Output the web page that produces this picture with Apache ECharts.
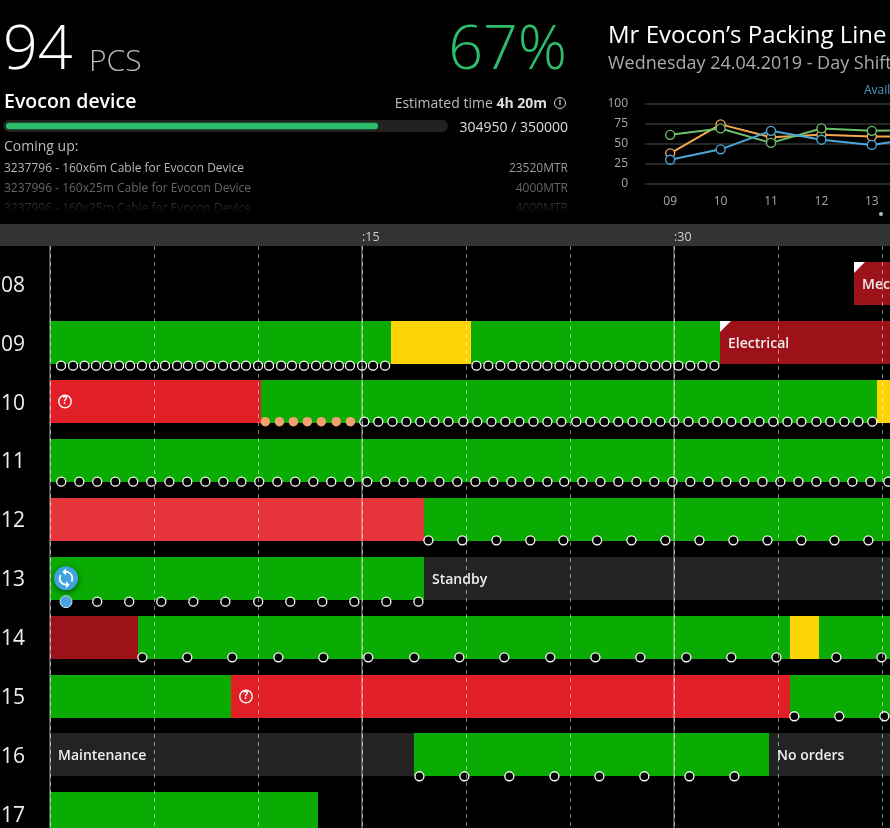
<!DOCTYPE html>
<html>
<head>
<meta charset="utf-8">
<title>Mr Evocon's Packing Line</title>
<style>
  html, body { margin: 0; padding: 0; background: #000; overflow: hidden; }
  #main { width: 890px; height: 828px; }
</style>
</head>
<body>
<div id="main"></div>
<script src="https://cdn.jsdelivr.net/npm/echarts@6/dist/echarts.min.js"></script>
<script>
//小时行
const hours = [8, 9, 10, 11, 12, 13, 14, 15, 16, 17];

//每行的状态段 [开始分钟, 结束分钟, 状态, 文字]
const row08 = [[38.65, 42, 'breakdown', 'Mechanical']];
const row09 = [[0, 16.38, 'run'], [16.38, 20.24, 'slow'], [20.24, 32.2, 'run'], [32.2, 42, 'breakdown', 'Electrical']];
const row10 = [[0, 10.13, 'unknown'], [10.13, 39.74, 'run'], [39.74, 42, 'slow']];
const row11 = [[0, 42, 'run']];
const row12 = [[0, 17.98, 'fault'], [17.98, 42, 'run']];
const row13 = [[0, 17.98, 'run'], [17.98, 42, 'idle', 'Standby']];
const row14 = [[0, 4.23, 'breakdown'], [4.23, 35.58, 'run'], [35.58, 36.97, 'slow'], [36.97, 42, 'run']];
const row15 = [[0, 8.7, 'run'], [8.7, 35.58, 'unknown'], [35.58, 42, 'run']];
const row16 = [[0, 17.5, 'idle', 'Maintenance'], [17.5, 34.57, 'run'], [34.57, 42, 'idle', 'No orders']];
const row17 = [[0, 12.88, 'run']];
const rows = [row08, row09, row10, row11, row12, row13, row14, row15, row16, row17];

//每行的产出点（分钟）
const dots09 = [0.53, 1.11, 1.66, 2.21, 2.74, 3.32, 3.85, 4.42, 5, 5.53, 6.11, 6.63, 7.21, 7.74, 8.32, 8.89, 9.42, 10, 10.53, 11.11, 11.63, 12.21, 12.79, 13.32, 13.89, 14.42, 15, 15.53, 16.11, 20.5, 21.07, 21.65, 22.23, 22.8, 23.38, 23.91, 24.49, 25.06, 25.64, 26.22, 26.79, 27.37, 27.95, 28.52, 29.1, 29.63, 30.21, 30.78, 31.36, 31.94];
const dots10 = [15.11, 15.78, 16.46, 17.13, 17.8, 18.48, 19.15, 19.87, 20.54, 21.22, 21.89, 22.56, 23.24, 23.91, 24.58, 25.3, 25.98, 26.65, 27.32, 28, 28.67, 29.34, 30.01, 30.69, 31.41, 32.08, 32.75, 33.43, 34.1, 34.77, 35.45, 36.12, 36.84, 37.51, 38.19, 38.86, 39.53];
const dots11 = [0.54, 1.41, 2.27, 3.14, 4, 4.87, 5.74, 6.6, 7.47, 8.33, 9.2, 10.06, 10.93, 11.79, 12.66, 13.52, 14.39, 15.25, 16.12, 16.99, 17.85, 18.72, 19.58, 20.45, 21.31, 22.18, 23.04, 23.91, 24.72, 25.59, 26.46, 27.32, 28.19, 29.05, 29.92, 30.78, 31.65, 32.51, 33.38, 34.25, 35.11, 35.98, 36.84, 37.71, 38.57, 39.44, 40.3];
const dots12 = [18.19, 19.82, 21.46, 23.09, 24.68, 26.3, 27.95, 29.58, 31.22, 32.85, 34.49, 36.12, 37.71, 39.34];
const dots13 = [2.27, 3.81, 5.35, 6.89, 8.43, 10.01, 11.55, 13.09, 14.63, 16.17, 17.71];
const dots14 = [4.44, 6.6, 8.76, 10.98, 13.14, 15.3, 17.51, 19.68, 21.84, 24.05, 26.22, 28.38, 30.59, 32.75, 34.92, 37.8, 39.97];
const dots15 = [35.78, 37.94, 40.11];
const dots16 = [17.76, 19.92, 22.08, 24.25, 26.41, 28.57, 30.74, 32.9];
const dotRows = [[9, dots09], [10, dots10], [11, dots11], [12, dots12], [13, dots13], [14, dots14], [15, dots15], [16, dots16]];

//慢速点和换型点
const slowDots10 = [10.35, 11.03, 11.7, 12.37, 13.04, 13.76, 14.44];
const changeoverDots13 = [0.77];

//小折线图
const trendHours = ['09', '10', '11', '12', '13', '14'];
const availability = [30, 43, 66, 55, 48.5, 58];
const performance = [38, 74, 58, 61, 59, 59];
const quality = [61, 69, 51, 69, 66, 67];

//工单进度
const producedAmount = 304950;
const targetAmount = 350000;

//颜色
const stateColors = {
  run: '#0aab02',
  slow: '#fcd406',
  unknown: '#e01f26',
  fault: '#e5353b',
  breakdown: '#9c1218',
  idle: '#232323'
};
const GREEN = '#2dbe6c';
const FONT = '"Open Sans", "Noto Sans", sans-serif';

//时间轴比例
const ROW_SPAN = 0.73;
const PX_PER_HOUR = 58.9;
const dotDropPx = { 9: 1.5, 10: -1.4, 11: -0.3, 12: -0.6, 13: 1.9, 14: -1.4, 15: -1.3, 16: -0.2 };
const rowBottomDot = (h) => h + ROW_SPAN / 2 + dotDropPx[h] / PX_PER_HOUR;

//摊平状态段
const segments = [];
rows.forEach((row, i) => {
  row.forEach((s) => segments.push({ start: s[0], end: s[1], state: s[2], label: s[3], hour: hours[i] }));
});

//状态段
function renderSegment(params, api) {
  const seg = segments[params.dataIndex];
  const p0 = api.coord([seg.start, seg.hour]);
  const p1 = api.coord([seg.end, seg.hour]);
  const h = api.size([0, ROW_SPAN])[1];
  const x = Math.round(p0[0]);
  const y = Math.round(p0[1] - h / 2);
  const w = Math.round(p1[0]) - x;
  const children = [{
    type: 'rect',
    shape: { x, y, width: w, height: Math.round(h) },
    style: { fill: stateColors[seg.state] }
  }];
  if (seg.state === 'breakdown' && seg.label) {
    children.push({
      type: 'polygon',
      shape: { points: [[x, y], [x + 11, y], [x, y + 11]] },
      style: { fill: '#fff' }
    });
  }
  if (seg.label) {
    children.push({
      type: 'text',
      style: {
        text: seg.label, x: x + 8, y: y + h / 2 + 2,
        fill: '#eee', font: '600 14px ' + FONT,
        textAlign: 'left', textVerticalAlign: 'middle'
      }
    });
  }
  if (seg.state === 'unknown') {
    const cx = x + 15;
    const cy = y + h / 2;
    children.push({
      type: 'circle',
      shape: { cx, cy, r: 6.2 },
      style: { fill: 'none', stroke: '#fff', lineWidth: 1.4 }
    }, {
      type: 'text',
      style: {
        text: '?', x: cx, y: cy, fill: '#fff', font: '700 10px ' + FONT,
        textAlign: 'center', textVerticalAlign: 'middle'
      }
    });
  }
  return { type: 'group', children };
}

//换型图标
function renderChangeover(params, api) {
  const p = api.coord([api.value(0), api.value(1)]);
  return {
    type: 'group',
    children: [{
      type: 'circle',
      shape: { cx: p[0], cy: p[1], r: 12 },
      style: { fill: '#3fa4e0', shadowBlur: 6, shadowColor: 'rgba(0,0,0,0.5)', shadowOffsetY: 2 }
    }, {
      type: 'path',
      shape: {
        pathData: 'M12 4V1L8 5l4 4V6c3.31 0 6 2.69 6 6 0 1.01-.25 1.97-.7 2.8l1.46 1.46C19.54 15.03 20 13.57 20 12c0-4.42-3.58-8-8-8zm0 14c-3.31 0-6-2.69-6-6 0-1.01.25-1.97.7-2.8L5.24 7.74C4.46 8.97 4 10.43 4 12c0 4.42 3.58 8 8 8v3l4-4-4-4v3z',
        x: p[0] - 10, y: p[1] - 10, width: 20, height: 20
      },
      style: { fill: '#fff' }
    }]
  };
}

//文字
function label(text, x, y, size, fill, weight, align) {
  return {
    type: 'text',
    style: {
      text, x, y, fill,
      font: (weight || 400) + ' ' + size + 'px ' + FONT,
      textAlign: align || 'left',
      textVerticalAlign: 'middle'
    }
  };
}

function trendSeries(name, data, color) {
  return {
    name,
    type: 'line',
    xAxisIndex: 2,
    yAxisIndex: 1,
    data,
    symbol: 'circle',
    symbolSize: 9,
    showSymbol: true,
    lineStyle: { color, width: 2 },
    itemStyle: { color: '#000', borderColor: color, borderWidth: 1.4 }
  };
}

const graphicElements = [
  { type: 'rect', shape: { x: 0, y: 224, width: 890, height: 22 }, style: { fill: '#333' } },
  { type: 'rect', shape: { x: 3, y: 120, width: 445, height: 12, r: 6 }, style: { fill: '#222' } },
  label('94', 3, 52, 61, '#fff', 350),
  label('PCS', 89, 62, 30, '#bbb', 350),
  label('67%', 567, 52, 61, GREEN, 350, 'right'),
  label('Evocon device', 4, 102, 19.5, '#fff', 600),
  {
    type: 'text',
    style: {
      text: '{a|Estimated time }{b|4h 20m}', x: 547, y: 104,
      textAlign: 'right', textVerticalAlign: 'middle',
      rich: {
        a: { fill: '#bbb', font: '400 14px ' + FONT },
        b: { fill: '#ddd', font: '700 14px ' + FONT }
      }
    }
  },
  { type: 'circle', shape: { cx: 560, cy: 103, r: 5.5 }, style: { fill: 'none', stroke: '#ccc', lineWidth: 1 } },
  label('i', 560, 103, 8, '#ccc', 700, 'center'),
  label('304950 / 350000', 568, 128, 14, '#ddd', 400, 'right'),
  label('Coming up:', 4, 147, 14, '#bbb'),
  label('3237796 - 160x6m Cable for Evocon Device', 4, 169, 12, '#b5b5b5'),
  label('23520MTR', 568, 169, 12, '#999', 400, 'right'),
  label('3237996 - 160x25m Cable for Evocon Device', 4, 189, 12, '#666'),
  label('4000MTR', 568, 189, 12, '#666', 400, 'right'),
  label('3237996 - 160x25m Cable for Evocon Device', 4, 209, 12, '#444'),
  label('4000MTR', 568, 209, 12, '#444', 400, 'right'),
  {
    type: 'rect',
    shape: { x: 0, y: 200, width: 580, height: 24 },
    style: {
      fill: new echarts.graphic.LinearGradient(0, 0, 0, 1, [
        { offset: 0, color: 'rgba(0,0,0,0)' },
        { offset: 0.55, color: 'rgba(0,0,0,1)' },
        { offset: 1, color: 'rgba(0,0,0,1)' }
      ])
    }
  },
  label('Mr Evocon’s Packing Line', 608, 36.5, 24, '#fff'),
  label('Wednesday 24.04.2019 - Day Shift', 608, 63.5, 18, '#aaa'),
  { type: 'circle', shape: { cx: 881, cy: 214, r: 2 }, style: { fill: '#bbb' } }
];

const myChart = echarts.init(document.getElementById('main'), null, { renderer: 'canvas' });

myChart.setOption({
  backgroundColor: '#000',
  animation: false,
  textStyle: { fontFamily: FONT },
  graphic: { elements: graphicElements },
  legend: {
    left: 859,
    top: 85,
    width: 600,
    padding: 0,
    selectedMode: false,
    itemWidth: 0,
    itemHeight: 0,
    itemGap: 16,
    data: [
      { name: 'Availability', icon: 'none', textStyle: { color: '#4a9cc4', fontSize: 12 } },
      { name: 'Performance', icon: 'none', textStyle: { color: '#f2a94e', fontSize: 12 } },
      { name: 'Quality', icon: 'none', textStyle: { color: '#6cbf6c', fontSize: 12 } }
    ]
  },
  grid: [
    { left: 50, top: 246, width: 840, height: 582, outerBoundsMode: 'none' },
    { left: 645, top: 103.5, width: 302.4, height: 80.4, outerBoundsMode: 'none' },
    { left: 6, top: 120, width: 427, height: 12, outerBoundsMode: 'none' }
  ],
  xAxis: [
    {
      //5分钟虚线
      type: 'value', gridIndex: 0, position: 'top', z: 5,
      min: 0, max: 40.38, interval: 5,
      axisLine: { show: false }, axisTick: { show: false }, axisLabel: { show: false },
      splitLine: { show: true, showMaxLine: false, lineStyle: { color: 'rgba(255,255,255,0.5)', width: 1, type: [4, 4] } }
    },
    {
      //15分钟实线
      type: 'value', gridIndex: 0, position: 'top', z: 6,
      min: 0, max: 40.38, interval: 15,
      axisLine: { show: false }, axisTick: { show: false },
      axisLabel: {
        color: '#ccc', fontSize: 12.5, margin: 2, align: 'left',
        showMaxLabel: false,
        formatter: (v) => (v > 0 && v % 15 === 0 ? ':' + v : '')
      },
      splitLine: { show: true, showMaxLine: false, lineStyle: { color: 'rgba(255,255,255,0.45)', width: 1.5 } }
    },
    {
      type: 'category', gridIndex: 1, data: trendHours, boundaryGap: true,
      axisLine: { show: false }, axisTick: { show: false },
      axisLabel: { color: '#aaa', fontSize: 12, margin: 12 }
    },
    {
      type: 'value', gridIndex: 2, min: 0, max: targetAmount, show: false
    }
  ],
  yAxis: [
    {
      type: 'value', gridIndex: 0, inverse: true,
      min: 7.358, max: 17.24,
      axisLine: { show: false }, axisTick: { show: false }, splitLine: { show: false },
      axisLabel: {
        customValues: hours, color: '#eee', fontSize: 21, margin: 25, align: 'right',
        verticalAlign: 'top', lineHeight: 4,
        formatter: (v) => String(v).padStart(2, '0')
      }
    },
    {
      type: 'value', gridIndex: 1, min: 0, max: 100, interval: 25,
      axisLine: { show: false }, axisTick: { show: false },
      axisLabel: { color: '#aaa', fontSize: 12, margin: 17 },
      splitLine: { lineStyle: { color: '#262626', width: 2 } }
    },
    {
      type: 'category', gridIndex: 2, data: ['progress'], show: false
    }
  ],
  series: [
    {
      type: 'custom', xAxisIndex: 0, yAxisIndex: 0, z: 2,
      renderItem: renderSegment,
      encode: { x: [0, 1], y: 2 },
      data: segments.map((s) => [s.start, s.end, s.hour])
    },
    {
      type: 'scatter', xAxisIndex: 0, yAxisIndex: 0, z: 3,
      symbolSize: 9,
      itemStyle: { color: '#000', borderColor: '#fff', borderWidth: 1.3, opacity: 1 },
      data: dotRows.flatMap(([h, list]) => list.map((m) => [m, rowBottomDot(h)]))
    },
    {
      type: 'scatter', xAxisIndex: 0, yAxisIndex: 0, z: 3,
      symbolSize: 9.5,
      itemStyle: { color: '#f5a06f', opacity: 1 },
      data: slowDots10.map((m) => [m, rowBottomDot(10)])
    },
    {
      type: 'scatter', xAxisIndex: 0, yAxisIndex: 0, z: 3,
      symbolSize: 12,
      itemStyle: { color: '#4aa3df', borderColor: '#cfe6f5', borderWidth: 1, opacity: 1 },
      data: changeoverDots13.map((m) => [m, rowBottomDot(13)])
    },
    {
      type: 'custom', xAxisIndex: 0, yAxisIndex: 0, z: 4,
      renderItem: renderChangeover,
      data: changeoverDots13.map((m) => [m, 13])
    },
    trendSeries('Performance', performance, '#f2a94e'),
    trendSeries('Quality', quality, '#6cbf6c'),
    trendSeries('Availability', availability, '#4aa8d8'),
    {
      type: 'bar', xAxisIndex: 3, yAxisIndex: 2,
      data: [producedAmount],
      barWidth: 6.6,
      itemStyle: { color: GREEN, borderRadius: 3 }
    }
  ]
});
</script>
</body>
</html>
